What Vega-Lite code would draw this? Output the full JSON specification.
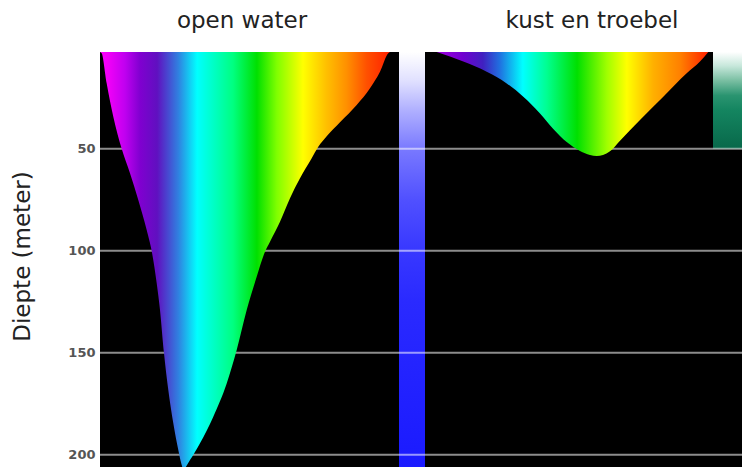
{
  "$schema": "https://vega.github.io/schema/vega-lite/v6.json",
  "width": 642,
  "height": 415,
  "autosize": {"type": "none"},
  "padding": {"left": 100, "top": 52, "right": 0, "bottom": 0},
  "background": "#ffffff",
  "config": {"view": {"fill": "#000000", "stroke": null}},
  "datasets": {
    "spectrum": [
      {"paneel": "open water", "positie": 0, "diepte": 2.5},
      {"paneel": "open water", "positie": 1.7, "diepte": 3.1},
      {"paneel": "open water", "positie": 6.7, "diepte": 17.9},
      {"paneel": "open water", "positie": 13.3, "diepte": 34.2},
      {"paneel": "open water", "positie": 21.7, "diepte": 50},
      {"paneel": "open water", "positie": 30, "diepte": 62},
      {"paneel": "open water", "positie": 38.3, "diepte": 75.1},
      {"paneel": "open water", "positie": 46.7, "diepte": 89.8},
      {"paneel": "open water", "positie": 51.7, "diepte": 100.1},
      {"paneel": "open water", "positie": 56.7, "diepte": 115.9},
      {"paneel": "open water", "positie": 60, "diepte": 129},
      {"paneel": "open water", "positie": 64, "diepte": 150.2},
      {"paneel": "open water", "positie": 68.3, "diepte": 168.2},
      {"paneel": "open water", "positie": 73.3, "diepte": 184.6},
      {"paneel": "open water", "positie": 78.3, "diepte": 197.7},
      {"paneel": "open water", "positie": 81.7, "diepte": 205},
      {"paneel": "open water", "positie": 83.3, "diepte": 207},
      {"paneel": "open water", "positie": 90, "diepte": 202.6},
      {"paneel": "open water", "positie": 100, "diepte": 194.4},
      {"paneel": "open water", "positie": 113.3, "diepte": 181.3},
      {"paneel": "open water", "positie": 126.7, "diepte": 165},
      {"paneel": "open water", "positie": 136.7, "diepte": 148.6},
      {"paneel": "open water", "positie": 146.7, "diepte": 129},
      {"paneel": "open water", "positie": 156.7, "diepte": 112.7},
      {"paneel": "open water", "positie": 165, "diepte": 100.4},
      {"paneel": "open water", "positie": 170, "diepte": 95.5},
      {"paneel": "open water", "positie": 180, "diepte": 85.7},
      {"paneel": "open water", "positie": 190, "diepte": 74.2},
      {"paneel": "open water", "positie": 200, "diepte": 64.4},
      {"paneel": "open water", "positie": 211.7, "diepte": 54.6},
      {"paneel": "open water", "positie": 218.3, "diepte": 49},
      {"paneel": "open water", "positie": 226.7, "diepte": 43.8},
      {"paneel": "open water", "positie": 240, "diepte": 37},
      {"paneel": "open water", "positie": 256.7, "diepte": 28.5},
      {"paneel": "open water", "positie": 270, "diepte": 20.3},
      {"paneel": "open water", "positie": 280, "diepte": 12.2},
      {"paneel": "open water", "positie": 288.3, "diepte": 3.1},
      {"paneel": "open water", "positie": 290, "diepte": 2.5},
      {"paneel": "kust en troebel", "positie": 336.7, "diepte": 2.5},
      {"paneel": "kust en troebel", "positie": 363.3, "diepte": 7.2},
      {"paneel": "kust en troebel", "positie": 386.7, "diepte": 12.2},
      {"paneel": "kust en troebel", "positie": 406.7, "diepte": 17.9},
      {"paneel": "kust en troebel", "positie": 423.3, "diepte": 24.4},
      {"paneel": "kust en troebel", "positie": 440, "diepte": 32.6},
      {"paneel": "kust en troebel", "positie": 453.3, "diepte": 40.2},
      {"paneel": "kust en troebel", "positie": 466.7, "diepte": 46.6},
      {"paneel": "kust en troebel", "positie": 480, "diepte": 51},
      {"paneel": "kust en troebel", "positie": 490, "diepte": 53},
      {"paneel": "kust en troebel", "positie": 496.7, "diepte": 53.5},
      {"paneel": "kust en troebel", "positie": 503, "diepte": 53},
      {"paneel": "kust en troebel", "positie": 510, "diepte": 51.2},
      {"paneel": "kust en troebel", "positie": 520, "diepte": 46},
      {"paneel": "kust en troebel", "positie": 540, "diepte": 35.8},
      {"paneel": "kust en troebel", "positie": 563.3, "diepte": 24.4},
      {"paneel": "kust en troebel", "positie": 586.7, "diepte": 12.9},
      {"paneel": "kust en troebel", "positie": 600, "diepte": 7.2},
      {"paneel": "kust en troebel", "positie": 608.3, "diepte": 2.5}
    ],
    "raster": [{"diepte": 50}, {"diepte": 100}, {"diepte": 150}, {"diepte": 200}],
    "leeg": [{}]
  },
  "encoding": {
    "x": {"type": "quantitative", "scale": {"domain": [0, 642], "nice": false, "zero": false}, "axis": null},
    "y": {
      "type": "quantitative",
      "scale": {"domain": [2.5, 206], "nice": false, "zero": false, "reverse": true},
      "axis": {
        "values": [50, 100, 150, 200],
        "grid": false, "ticks": false, "domain": false,
        "labelFont": "DejaVu Sans", "labelFontWeight": "bold", "labelFontSize": 13,
        "labelColor": "#555555", "labelPadding": 5,
        "title": "Diepte (meter)", "titleFont": "DejaVu Sans", "titleFontSize": 23,
        "titleFontWeight": "normal", "titleColor": "#222222", "titleAngle": 270,
        "titleX": -71, "titleY": 204, "titleAlign": "center", "titleBaseline": "alphabetic"
      }
    }
  },
  "layer": [
    {
      "data": {"name": "leeg"},
      "mark": {"type": "rect", "fill": {"gradient": "linear", "x1": 0, "y1": 0, "x2": 0, "y2": 1, "stops": [
        {"offset": 0, "color": "#ffffff"},
        {"offset": 0.07, "color": "#e0e0ff"},
        {"offset": 0.14, "color": "#b0b0ff"},
        {"offset": 0.236, "color": "#7878ff"},
        {"offset": 0.357, "color": "#5050ff"},
        {"offset": 0.477, "color": "#3838ff"},
        {"offset": 0.6, "color": "#2a2aff"},
        {"offset": 1, "color": "#1a1aff"}
      ]}},
      "encoding": {"x": {"datum": 299}, "x2": {"datum": 325}, "y": {"datum": 2.5}, "y2": {"datum": 206}}
    },
    {
      "data": {"name": "leeg"},
      "mark": {"type": "rect", "fill": {"gradient": "linear", "x1": 0, "y1": 0, "x2": 0, "y2": 1, "stops": [
        {"offset": 0, "color": "#ffffff"},
        {"offset": 0.14, "color": "#c8e8dc"},
        {"offset": 0.29, "color": "#7cc0a4"},
        {"offset": 0.45, "color": "#2a9470"},
        {"offset": 0.6, "color": "#148560"},
        {"offset": 1, "color": "#08684a"}
      ]}},
      "encoding": {"x": {"datum": 613}, "x2": {"datum": 642}, "y": {"datum": 2.5}, "y2": {"datum": 50}}
    },
    {
      "data": {"name": "raster"},
      "mark": {"type": "rule", "color": "#ffffff", "opacity": 0.55, "strokeWidth": 2},
      "encoding": {"y": {"field": "diepte"}}
    },
    {
      "data": {"name": "spectrum"},
      "transform": [{"filter": "datum.paneel === 'open water'"}],
      "mark": {"type": "area", "interpolate": "monotone", "fill": {"gradient": "linear", "x1": 0, "y1": 0, "x2": 1, "y2": 0, "stops": [
        {"offset": 0, "color": "#ff00ff"},
        {"offset": 0.03, "color": "#f000f8"},
        {"offset": 0.086, "color": "#c000f0"},
        {"offset": 0.138, "color": "#8000d0"},
        {"offset": 0.197, "color": "#6010c0"},
        {"offset": 0.27, "color": "#3080e0"},
        {"offset": 0.335, "color": "#00ffff"},
        {"offset": 0.459, "color": "#00ff80"},
        {"offset": 0.541, "color": "#00e000"},
        {"offset": 0.61, "color": "#80ff00"},
        {"offset": 0.7, "color": "#ffff00"},
        {"offset": 0.78, "color": "#ffc000"},
        {"offset": 0.85, "color": "#ff9000"},
        {"offset": 0.92, "color": "#ff5000"},
        {"offset": 1, "color": "#ff2000"}
      ]}},
      "encoding": {"x": {"field": "positie"}, "y": {"field": "diepte"}, "y2": {"datum": 2.5}}
    },
    {
      "data": {"name": "spectrum"},
      "transform": [{"filter": "datum.paneel === 'kust en troebel'"}],
      "mark": {"type": "area", "interpolate": "monotone", "fill": {"gradient": "linear", "x1": 0, "y1": 0, "x2": 1, "y2": 0, "stops": [
        {"offset": 0, "color": "#a000e0"},
        {"offset": 0.096, "color": "#7000d0"},
        {"offset": 0.17, "color": "#4020c0"},
        {"offset": 0.232, "color": "#2070e0"},
        {"offset": 0.317, "color": "#00ffff"},
        {"offset": 0.406, "color": "#00ff90"},
        {"offset": 0.517, "color": "#00e000"},
        {"offset": 0.627, "color": "#a0ff00"},
        {"offset": 0.7, "color": "#ffff00"},
        {"offset": 0.797, "color": "#ffb000"},
        {"offset": 0.897, "color": "#ff8000"},
        {"offset": 1, "color": "#ff2000"}
      ]}},
      "encoding": {"x": {"field": "positie"}, "y": {"field": "diepte"}, "y2": {"datum": 2.5}}
    },
    {
      "data": {"name": "leeg"},
      "mark": {"type": "text", "font": "DejaVu Sans", "fontSize": 23, "color": "#222222", "align": "center", "baseline": "alphabetic"},
      "encoding": {"x": {"datum": 142}, "y": {"datum": -9.5}, "text": {"value": "open water"}}
    },
    {
      "data": {"name": "leeg"},
      "mark": {"type": "text", "font": "DejaVu Sans", "fontSize": 23, "color": "#222222", "align": "center", "baseline": "alphabetic"},
      "encoding": {"x": {"datum": 492}, "y": {"datum": -9.5}, "text": {"value": "kust en troebel"}}
    }
  ]
}
